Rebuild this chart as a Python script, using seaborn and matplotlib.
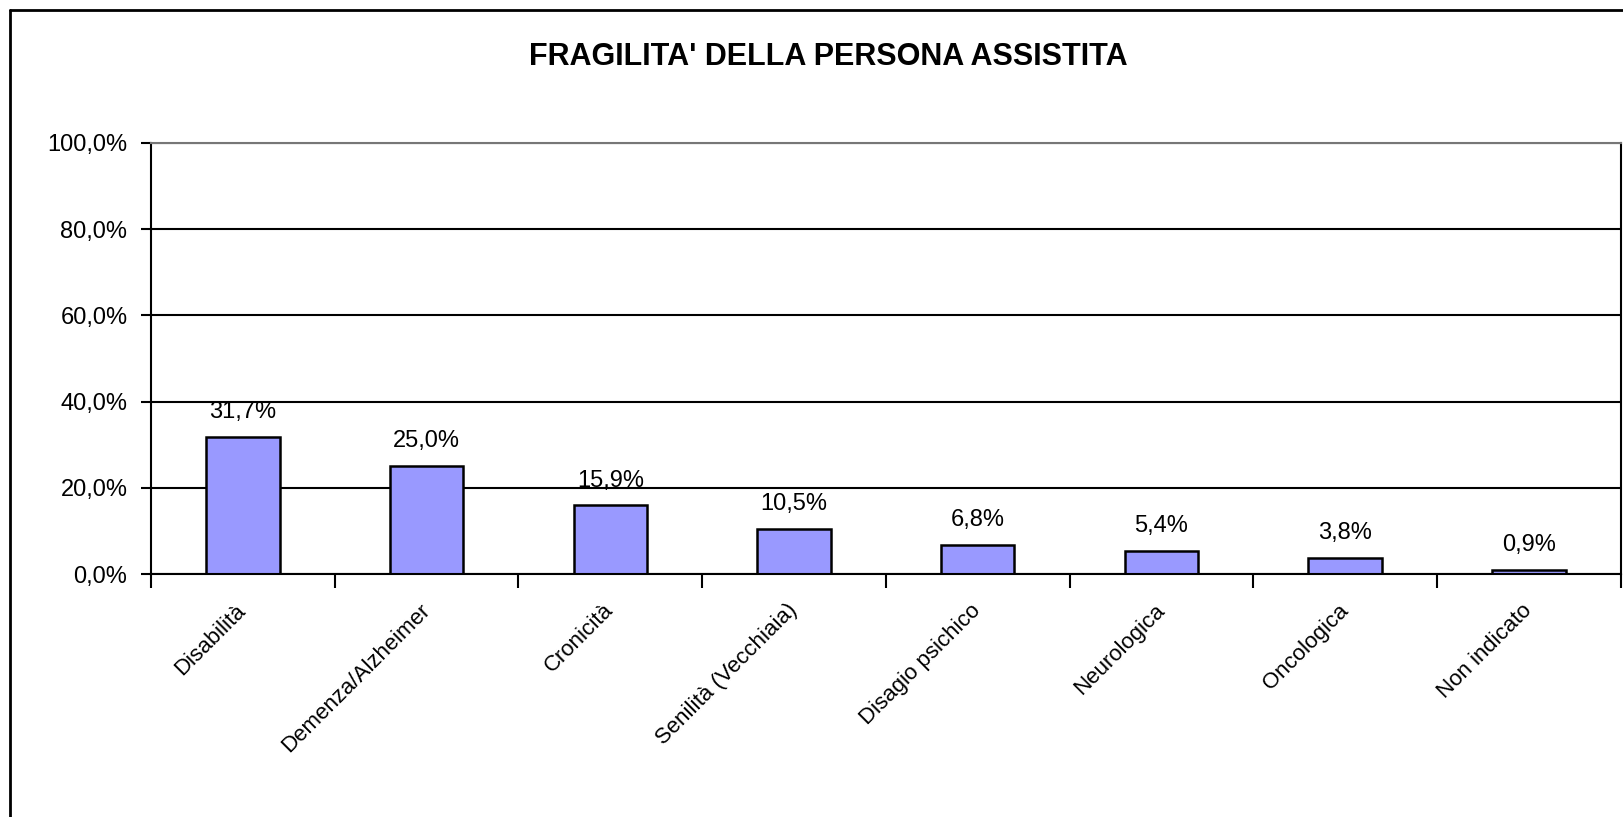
import matplotlib
matplotlib.use("Agg")
import matplotlib.pyplot as plt
from matplotlib.lines import Line2D
from matplotlib.ticker import FixedLocator, FuncFormatter
import pandas as pd
import seaborn as sns

# Data
categories = ["Disabilità", "Demenza/Alzheimer", "Cronicità", "Senilità (Vecchiaia)",
              "Disagio psichico", "Neurologica", "Oncologica", "Non indicato"]
values = [31.7, 25.0, 15.9, 10.5, 6.8, 5.4, 3.8, 0.9]
y_ticks = [0, 20, 40, 60, 80, 100]
title = "FRAGILITA' DELLA PERSONA ASSISTITA"

sns.set_style("white")
plt.rcParams['font.family'] = ['Liberation Sans', 'DejaVu Sans']
plt.rcParams['text.color'] = 'black'
plt.rcParams['xtick.color'] = 'black'
plt.rcParams['ytick.color'] = 'black'

df = pd.DataFrame({"cat": categories, "val": values})

fig = plt.figure(figsize=(16.24, 8.17), dpi=100)
ax = fig.add_axes([0.093, 0.2974, 0.905, 0.5276])

sns.barplot(data=df, x="cat", y="val", color="#9999FF", edgecolor="black",
            linewidth=1.8, width=0.4, saturation=1, ax=ax)

ax.set_ylim(0, 100)
ax.set_xlim(-0.5, len(categories) - 0.5)
ax.yaxis.set_major_locator(FixedLocator(y_ticks))
ax.yaxis.set_major_formatter(FuncFormatter(lambda v, p: f"{v:.1f}%".replace(".", ",")))
ax.grid(axis="y", color="black", linewidth=1.5)
ax.set_axisbelow(True)
ax.set_xlabel("")
ax.set_ylabel("")

for s in ax.spines.values():
    s.set_color("black")
    s.set_linewidth(1.5)
ax.spines["top"].set_color("#777777")

# category ticks between bars, like the original
ax.set_xticks([i - 0.5 for i in range(len(categories) + 1)], minor=True)
ax.tick_params(axis="x", which="minor", bottom=True, length=10, width=1.5,
               color="black", direction="out")
ax.tick_params(axis="x", which="major", bottom=False, length=0, pad=24)
ax.tick_params(axis="y", left=True, length=7, width=1.5, color="black",
               direction="out", pad=10)
ax.set_xticks(range(len(categories)))
ax.set_xticklabels(categories, rotation=45, ha="right", va="center",
                   rotation_mode="anchor", fontsize=16)
for lab in ax.get_yticklabels():
    lab.set_fontsize(17)

ax.bar_label(ax.containers[0], labels=[f"{v:.1f}%".replace(".", ",") for v in values],
             padding=10, fontsize=17)

fig.text(0.51, 0.93, title, ha="center", va="center", fontsize=22, fontweight="bold")

# outer chart frame
fig.add_artist(Line2D([0.0062, 0.0062], [0.0, 0.988], color="black", linewidth=2,
                      transform=fig.transFigure))
fig.add_artist(Line2D([0.0062, 1.0], [0.988, 0.988], color="black", linewidth=2,
                      transform=fig.transFigure))

fig.savefig("out.png", dpi=100)
